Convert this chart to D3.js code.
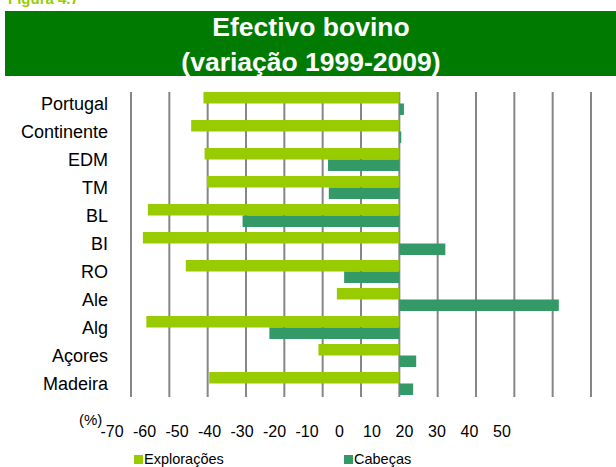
<!DOCTYPE html>
<html>
<head>
<meta charset="utf-8">
<script src="https://cdn.jsdelivr.net/npm/d3@7"></script>
<style>
  body { margin: 0; background: #fff; }
  text { font-family: "Liberation Sans", Arial, sans-serif; }
</style>
</head>
<body>
<script>
var width = 616,
    height = 467;

var categories = ['Portugal', 'Continente', 'EDM', 'TM', 'BL', 'BI', 'RO', 'Ale', 'Alg', 'Açores', 'Madeira'];
var exploracoes = [-51.1, -54.3, -50.8, -50.2, -65.6, -66.9, -55.7, -16.3, -66.0, -21.1, -49.6];
var cabecas = [1.2, 0.5, -18.6, -18.4, -40.9, 12.0, -14.4, 41.6, -33.9, 4.4, 3.6];
var ticks = [-70, -60, -50, -40, -30, -20, -10, 0, 10, 20, 30, 40, 50];
var seriesNames = ['Explorações', 'Cabeças'];
var seriesColors = ['#99cc00', '#339966'];

var svg = d3.select('body')
  .append('svg')
  .attr('width', width)
  .attr('height', height);

// header
svg.append('text')
  .attr('x', 8)
  .attr('y', 4)
  .style('font-size', '15px')
  .style('font-weight', 'bold')
  .style('fill', '#99cc00')
  .text('Figura 4.7');

svg.append('rect')
  .attr('x', 5)
  .attr('y', 11)
  .attr('width', 611)
  .attr('height', 65)
  .attr('fill', '#007a00');

svg.selectAll('.title')
  .data(['Efectivo bovino', '(variação 1999-2009)'])
  .enter().append('text')
  .attr('class', 'title')
  .attr('x', 311)
  .attr('y', function (d, i) { return 36 + i * 35; })
  .attr('text-anchor', 'middle')
  .style('font-size', '26.5px')
  .style('font-weight', 'bold')
  .style('fill', '#fff')
  .text(function (d) { return d; });

// scales
var x = d3.scaleLinear()
  .domain([-70, 50])
  .range([131, 591]);

// tick labels sit offset from the gridlines in the original
var xLabel = d3.scaleLinear()
  .domain([-70, 50])
  .range([112, 502]);

var y = d3.scaleBand()
  .domain(categories)
  .range([89.5, 397.5])
  .paddingInner(0.18)
  .paddingOuter(0.09);

var ySub = d3.scaleBand()
  .domain([0, 1])
  .range([0, y.bandwidth()]);

// gridlines
svg.selectAll('.grid')
  .data(ticks)
  .enter().append('line')
  .attr('class', 'grid')
  .attr('x1', function (d) { return x(d); })
  .attr('x2', function (d) { return x(d); })
  .attr('y1', 92)
  .attr('y2', 397)
  .attr('stroke', '#868686')
  .attr('stroke-width', 2);

// bars
var series = [exploracoes, cabecas];
series.forEach(function (values, s) {
  svg.selectAll('.bar' + s)
    .data(values)
    .enter().append('rect')
    .attr('class', 'bar' + s)
    .attr('x', function (d) { return x(Math.min(0, d)); })
    .attr('y', function (d, i) { return y(categories[i]) + ySub(s); })
    .attr('width', function (d) { return Math.abs(x(d) - x(0)); })
    .attr('height', ySub.bandwidth())
    .attr('fill', seriesColors[s]);
});

// category labels
svg.selectAll('.cat')
  .data(categories)
  .enter().append('text')
  .attr('class', 'cat')
  .attr('x', 108)
  .attr('y', function (d) { return y(d) + y.bandwidth() / 2 + 6.5; })
  .attr('text-anchor', 'end')
  .style('font-size', '18px')
  .style('fill', '#000')
  .text(function (d) { return d; });

// x tick labels
svg.selectAll('.tick-label')
  .data(ticks)
  .enter().append('text')
  .attr('class', 'tick-label')
  .attr('x', function (d) { return xLabel(d); })
  .attr('y', 437)
  .attr('text-anchor', 'middle')
  .style('font-size', '16px')
  .style('fill', '#000')
  .text(function (d) { return d; });

svg.append('text')
  .attr('x', 79)
  .attr('y', 425)
  .style('font-size', '15px')
  .text('(%)');

// legend
var legend = svg.selectAll('.legend')
  .data(seriesNames)
  .enter().append('g')
  .attr('class', 'legend')
  .attr('transform', function (d, i) { return 'translate(' + (134 + i * 210) + ',455)'; });

legend.append('rect')
  .attr('width', 9)
  .attr('height', 9)
  .attr('fill', function (d, i) { return seriesColors[i]; });

legend.append('text')
  .attr('x', 10)
  .attr('y', 9)
  .style('font-size', '14.5px')
  .text(function (d) { return d; });
</script>
</body>
</html>
